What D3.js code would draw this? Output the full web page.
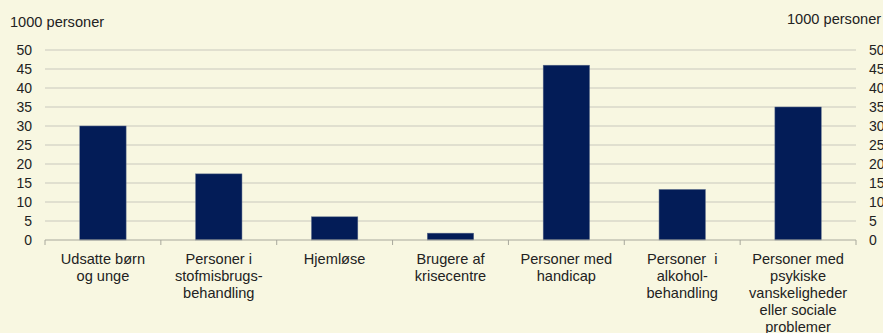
<!DOCTYPE html>
<html lang="da">
<head>
    <meta charset="UTF-8">
    <title>1000 personer</title>
    <script src="https://d3js.org/d3.v7.min.js"></script>
    <style>
        body { margin: 0; background: #f8f7e1; }
        svg text { font-family: "Liberation Sans", Arial, sans-serif; fill: #222; white-space: pre; }
    </style>
</head>
<body>
    <svg width="883" height="333"></svg>

    <script>
        // Data (1000 persons)
        const categories = [
            ["Udsatte børn", "og unge"],
            ["Personer i", "stofmisbrugs-", "behandling"],
            ["Hjemløse"],
            ["Brugere af", "krisecentre"],
            ["Personer med", "handicap"],
            ["Personer  i", "alkohol-", "behandling"],
            ["Personer med", "psykiske", "vanskeligheder", "eller sociale", "problemer"]
        ];
        const values = [30, 17.4, 6.1, 1.8, 46, 13.3, 35];
        const yTicks = [0, 5, 10, 15, 20, 25, 30, 35, 40, 45, 50];
        const unitLabel = "1000 personer";

        const width = 883, height = 333;
        const margin = {top: 50, right: 27, bottom: 93, left: 45};

        const svg = d3.select("svg");

        svg.append("rect")
            .attr("width", width).attr("height", height)
            .attr("fill", "#f8f7e1");

        const x = d3.scaleBand()
            .domain(d3.range(categories.length))
            .range([margin.left, width - margin.right])
            .paddingInner(0.6)
            .paddingOuter(0.3);

        const y = d3.scaleLinear()
            .domain([0, 50])
            .range([height - margin.bottom, margin.top]);

        // gridlines
        svg.append("g")
            .selectAll("line")
            .data(yTicks.slice(1))
            .join("line")
            .attr("x1", margin.left)
            .attr("x2", width - margin.right)
            .attr("y1", d => y(d))
            .attr("y2", d => y(d))
            .attr("stroke", "#c9c8bd")
            .attr("stroke-width", 1);

        // left axis
        const left = svg.append("g")
            .attr("transform", `translate(${margin.left},0)`)
            .call(d3.axisLeft(y).tickValues(yTicks).tickSize(0).tickPadding(13));
        left.select(".domain").remove();
        left.selectAll("text").attr("font-size", "14px").attr("fill", "#222");

        // right axis
        const right = svg.append("g")
            .attr("transform", `translate(${width - margin.right},0)`)
            .call(d3.axisRight(y).tickValues(yTicks).tickSize(0).tickPadding(13));
        right.select(".domain").remove();
        right.selectAll("text").attr("font-size", "14px").attr("fill", "#222");

        // bars
        svg.append("g")
            .selectAll("rect")
            .data(values)
            .join("rect")
            .attr("x", (d, i) => x(i))
            .attr("y", d => y(d))
            .attr("width", x.bandwidth())
            .attr("height", d => y(0) - y(d))
            .attr("fill", "#031c57")
            .attr("stroke", "#5a6a8a")
            .attr("stroke-width", 0.5);

        // x axis line with category separators
        const step = (width - margin.right - margin.left) / categories.length;
        const base = svg.append("g");
        base.append("line")
            .attr("x1", margin.left).attr("x2", width - margin.right)
            .attr("y1", y(0)).attr("y2", y(0))
            .attr("stroke", "#a8a89c");
        base.selectAll("line.tick")
            .data(d3.range(categories.length + 1))
            .join("line")
            .attr("class", "tick")
            .attr("x1", i => margin.left + i * step)
            .attr("x2", i => margin.left + i * step)
            .attr("y1", y(0))
            .attr("y2", y(0) + 5)
            .attr("stroke", "#a8a89c");

        // category labels
        const labels = svg.append("g")
            .selectAll("text")
            .data(categories)
            .join("text")
            .attr("text-anchor", "middle")
            .attr("font-size", "14.6px")
            .attr("y", 264);
        labels.selectAll("tspan")
            .data((d, i) => d.map(line => ({line, i})))
            .join("tspan")
            .attr("x", d => x(d.i) + x.bandwidth() / 2)
            .attr("dy", (d, j) => j === 0 ? 0 : 17)
            .text(d => d.line);

        // unit labels
        svg.append("text")
            .attr("x", 10).attr("y", 27)
            .attr("font-size", "14.6px")
            .text(unitLabel);
        svg.append("text")
            .attr("x", 787).attr("y", 24)
            .attr("font-size", "14.6px")
            .text(unitLabel);
    </script>
</body>
</html>
